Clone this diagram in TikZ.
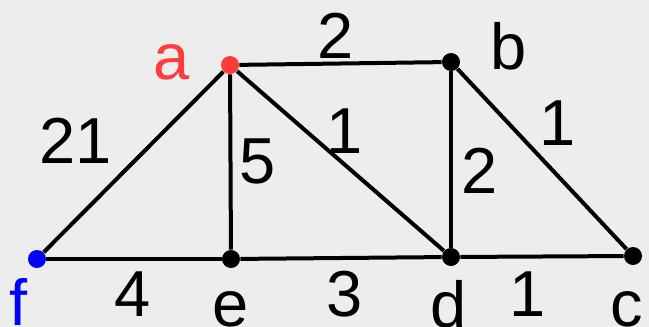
\documentclass[tikz,border=0pt]{standalone}
\usepackage{fontspec}
\setmainfont{Liberation Sans}
\usetikzlibrary{positioning}
\definecolor{bggray}{RGB}{237,237,237}
\definecolor{ptred}{RGB}{255,60,60}
\definecolor{ptblue}{RGB}{0,0,255}

\begin{document}
\begin{tikzpicture}[
  x=0.5pt, y=-0.5pt,
  vertex/.style={circle, fill=black, inner sep=0pt, minimum size=9pt},
  lbl/.style={anchor=base, inner sep=0pt, font=\fontsize{32.5}{36}\selectfont},
  edge/.style={line width=2pt, black}
]
  \fill[bggray] (0,0) rectangle (649,327);
  \useasboundingbox (0,0) rectangle (649,327);
  % vertices
  \node[vertex, fill=ptred] (a) at (230,65) {};
  \node[vertex] (b) at (451,62) {};
  \node[vertex] (c) at (633,256) {};
  \node[vertex] (d) at (451,257) {};
  \node[vertex] (e) at (231,259) {};
  \node[vertex, fill=ptblue] (f) at (37,259) {};
  % edges
  \foreach \u/\v in {a/b, a/f, a/e, a/d, b/d, b/c, f/e, e/d, d/c} {
    \draw[edge] (\u) -- (\v);
  }
  % vertex names
  \node[lbl, text=ptred] (na) at (172,79) {a};
  \node[lbl] (nb) at (509,69) {b};
  \node[lbl] (nc) at (627,326) {c};
  \node[lbl] (nd) at (449,327) {d};
  \node[lbl] (ne) at (231,326) {e};
  \node[lbl, text=ptblue] (nf) at (19,325) {f};
  % weights
  \node[lbl] (wab) at (336,58) {2};
  \node[lbl] (waf) at (76,163) {21};
  \node[lbl] (wae) at (258,183) {5};
  \node[lbl] (wad) at (345,153) {1};
  \node[lbl] (wbd) at (480,193) {2};
  \node[lbl] (wbc) at (558,145) {1};
  \node[lbl] (wfe) at (133,316) {4};
  \node[lbl] (wed) at (345,316) {3};
  \node[lbl] (wdc) at (528,316) {1};
\end{tikzpicture}
\end{document}
